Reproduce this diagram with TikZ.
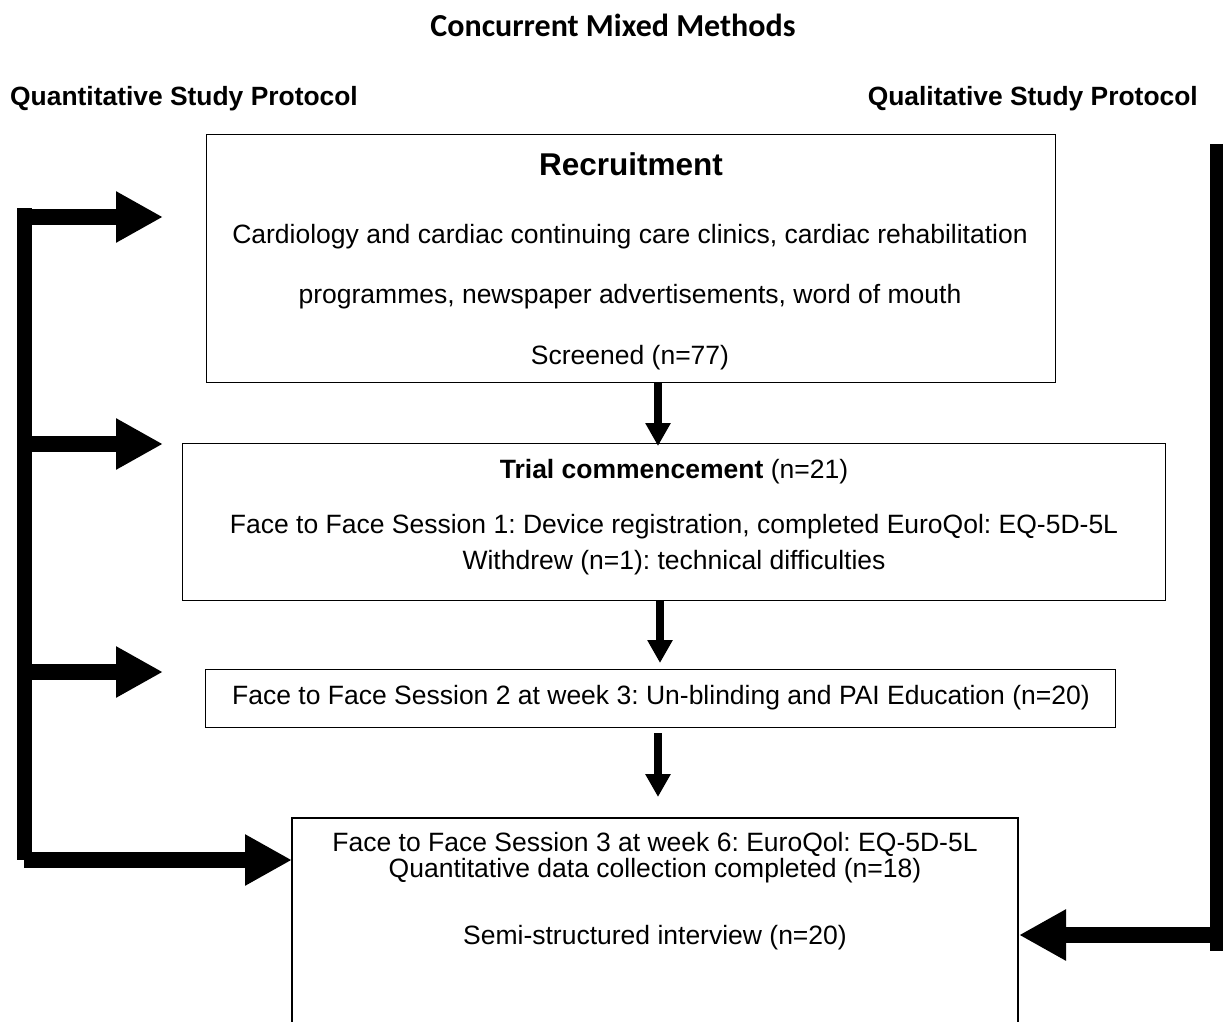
\documentclass[tikz,border=0pt]{standalone}
\usepackage{fontspec}
\setmainfont{Liberation Sans}
\newfontfamily\calibri{Carlito}
\usetikzlibrary{arrows.meta}
\begin{document}
\frenchspacing
\begin{tikzpicture}[x=1pt,y=-1pt,
  box/.style={draw,line width=1.3pt,inner sep=0pt,anchor=north west},
  txt/.style={inner sep=0pt,font=\fontsize{26.5}{28}\selectfont},
  hdr/.style={inner sep=0pt,font=\bfseries\fontsize{26.4}{28}\selectfont},
  ttl/.style={inner sep=0pt,font=\calibri\bfseries\fontsize{32}{34}\selectfont},
  bigarrow/.style={line width=16pt,-{Triangle[length=47pt,width=48pt]}},
  bar/.style={line width=15pt},
  downarrow/.style={line width=8pt,-{Triangle[length=23pt,width=24pt]}}]
\useasboundingbox (0,0) rectangle (1223,1022);
% headers
\node[ttl] (title) at (613,25) {Concurrent Mixed Methods};
\node[hdr,anchor=west] (quant) at (10,99) {Quantitative Study Protocol};
\node[hdr,anchor=east] (qual) at (1198,99) {Qualitative Study Protocol};
% boxes
\node[box,minimum width=849pt,minimum height=248pt] (rec) at (206,134) {};
\node[box,minimum width=983pt,minimum height=157pt] (trial) at (182,443) {};
\node[box,minimum width=910pt,minimum height=58pt] (s2) at (205,669) {};
\draw[line width=1.3pt] (292,1030) |- (1018,818) coordinate (s3top) -- (1018,1030);
\coordinate (s3l) at (292,860);
\coordinate (s3r) at (1019,935);
% recruitment text
\node[inner sep=0pt,font=\bfseries\fontsize{31.5}{34}\selectfont] (rect) at (631,164) {Recruitment};
\node[txt] (rec1) at (630,237) {Cardiology and cardiac continuing care clinics, cardiac rehabilitation};
\node[txt] (rec2) at (630,297) {programmes, newspaper advertisements, word of mouth};
\node[txt] (rec3) at (630,358) {Screened (n=77)};
% trial text
\node[txt] (tr1) at (674,472) {\textbf{Trial commencement} (n=21)};
\node[txt] (tr2) at (674,527) {Face to Face Session 1: Device registration, completed EuroQol: EQ-5D-5L};
\node[txt] (tr3) at (674,563) {Withdrew (n=1): technical difficulties};
% session 2
\node[txt] (s2t) at (661,698) {Face to Face Session 2 at week 3: Un-blinding and PAI Education (n=20)};
% session 3
\node[txt] (s31) at (655,844) {Face to Face Session 3 at week 6: EuroQol: EQ-5D-5L};
\node[txt] (s32) at (655,871) {Quantitative data collection completed (n=18)};
\node[txt] (s33) at (655,938) {Semi-structured interview (n=20)};
% down arrows
\coordinate (a1) at (658,0);
\coordinate (a2) at (660,0);
\draw[downarrow] (rec.south -| a1) -- (658,446);
\draw[downarrow] (trial.south -| a2) -- (660,663);
\draw[downarrow] (658,733) -- (658,797);
% left bracket
\coordinate (lt) at (24.5,208);
\coordinate (lb) at (24.5,860);
\draw[bar] (lt) -- (lb);
\draw[bigarrow] (17,217) -- (163,217);
\draw[bigarrow] (17,444) -- (163,444);
\draw[bigarrow] (17,672) -- (163,672);
\draw[bigarrow] (24,860) -- (s3l);
% right bracket
\coordinate (rt) at (1216.5,144);
\coordinate (rb) at (1216.5,951);
\draw[bar,line width=13pt] (rt) -- (rb);
\draw[bigarrow] (1223,935) -- (s3r);
\end{tikzpicture}
\end{document}
